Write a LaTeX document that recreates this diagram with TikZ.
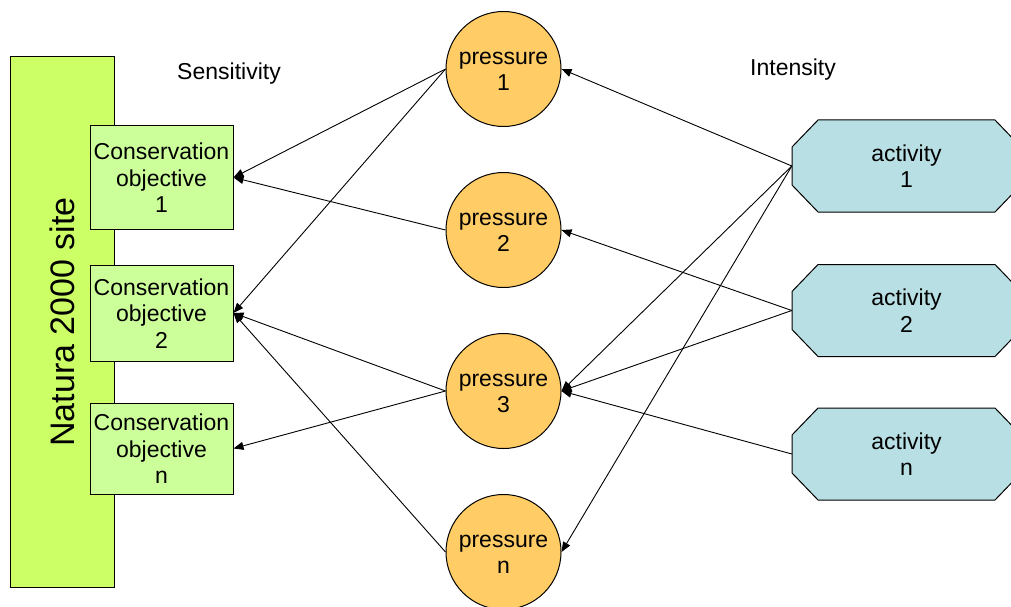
\documentclass[tikz,border=0pt]{standalone}
\usepackage{fontspec}
\setmainfont{Liberation Sans}
\usetikzlibrary{arrows.meta}
\definecolor{sitegreen}{HTML}{CCFF66}
\definecolor{objgreen}{HTML}{CCFF99}
\definecolor{pressorange}{HTML}{FFCC66}
\definecolor{actblue}{HTML}{B8DFE3}
% struts for the first and last line of a label, fixing its vertical centring
\newcommand{\topstrut}{\rule{0pt}{18pt}}
\newcommand{\botstrut}{\rule[-1pt]{0pt}{1pt}}
\tikzset{
  txt/.style={font=\fontsize{23}{26.5}\selectfont, align=center, text=black},
  site/.style={draw, line width=1pt, fill=sitegreen, minimum width=104pt, minimum height=530pt, inner sep=0pt},
  objective/.style={txt, draw, line width=1pt, fill=objgreen, minimum width=143pt, inner sep=0pt},
  pressure/.style={txt, circle, draw, line width=1pt, fill=pressorange, minimum size=115pt, inner sep=0pt},
  actshape/.style={draw, line width=1pt, fill=actblue},
  activity/.style={txt, minimum width=229pt, minimum height=92pt, inner sep=0pt},
  link/.style={line width=0.9pt, -{Triangle[length=10pt,width=8pt]}},
  heading/.style={font=\fontsize{23}{26}\selectfont, text=black}
}
% octagonal activity box: name, x, y, label
\newcommand{\activitynode}[4]{%
  \filldraw[actshape] ({#2-114.5},{#3-19}) -- ({#2-88.5},{#3-46}) -- ({#2+88.5},{#3-46})
    -- ({#2+114.5},{#3-19}) -- ({#2+114.5},{#3+19}) -- ({#2+88.5},{#3+46})
    -- ({#2-88.5},{#3+46}) -- ({#2-114.5},{#3+19}) -- cycle;
  \node[activity] (#1) at (#2,#3) {#4};}
\begin{document}
\begin{tikzpicture}[x=1pt,y=-1pt]
\clip (0,0) rectangle (1011,607);

% site and its conservation objectives
\node[site] (site) at (62,322) {};
\node[rotate=90, font=\fontsize{34}{40}\selectfont] (sitelabel) at (site.center) {Natura 2000 site};
\node[objective, minimum height=103pt] (co1) at (161.5,177.5) {\topstrut Conservation\\objective\\1\botstrut};
\node[objective, minimum height=96pt] (co2) at (161.5,313) {\topstrut Conservation\\objective\\2\botstrut};
\node[objective, minimum height=91pt] (con) at (161.5,448.5) {\topstrut Conservation\\objective\\n\botstrut};

% pressures
\node[pressure] (p1) at (503.5,69) {\topstrut pressure\\1\botstrut};
\node[pressure] (p2) at (503.5,230) {\topstrut pressure\\2\botstrut};
\node[pressure] (p3) at (503.5,391) {\topstrut pressure\\3\botstrut};
\node[pressure] (pn) at (503.5,552) {\topstrut pressure\\n\botstrut};

% activities
\activitynode{a1}{906.5}{166}{\topstrut activity\\1\botstrut}
\activitynode{a2}{906.5}{310.5}{\topstrut activity\\2\botstrut}
\activitynode{an}{906.5}{454}{\topstrut activity\\n\botstrut}

% column headings
\node[heading] (sens) at (229,74) {Sensitivity};
\node[heading] (inte) at (793,70) {Intensity};

% pressures acting on objectives
\draw[link] (p1.west) -- (co1.east);
\draw[link] (p1.west) -- (co2.east);
\draw[link] (p2.west) -- (co1.east);
\draw[link] (p3.west) -- (co2.east);
\draw[link] (p3.west) -- (con.east);
\draw[link] (pn.west) -- (co2.east);

% activities causing pressures
\draw[link] (a1.west) -- (p1.east);
\draw[link] (a1.west) -- (p3.east);
\draw[link] (a1.west) -- (pn.east);
\draw[link] (a2.west) -- (p2.east);
\draw[link] (a2.west) -- (p3.east);
\draw[link] (an.west) -- (p3.east);
\end{tikzpicture}
\end{document}
